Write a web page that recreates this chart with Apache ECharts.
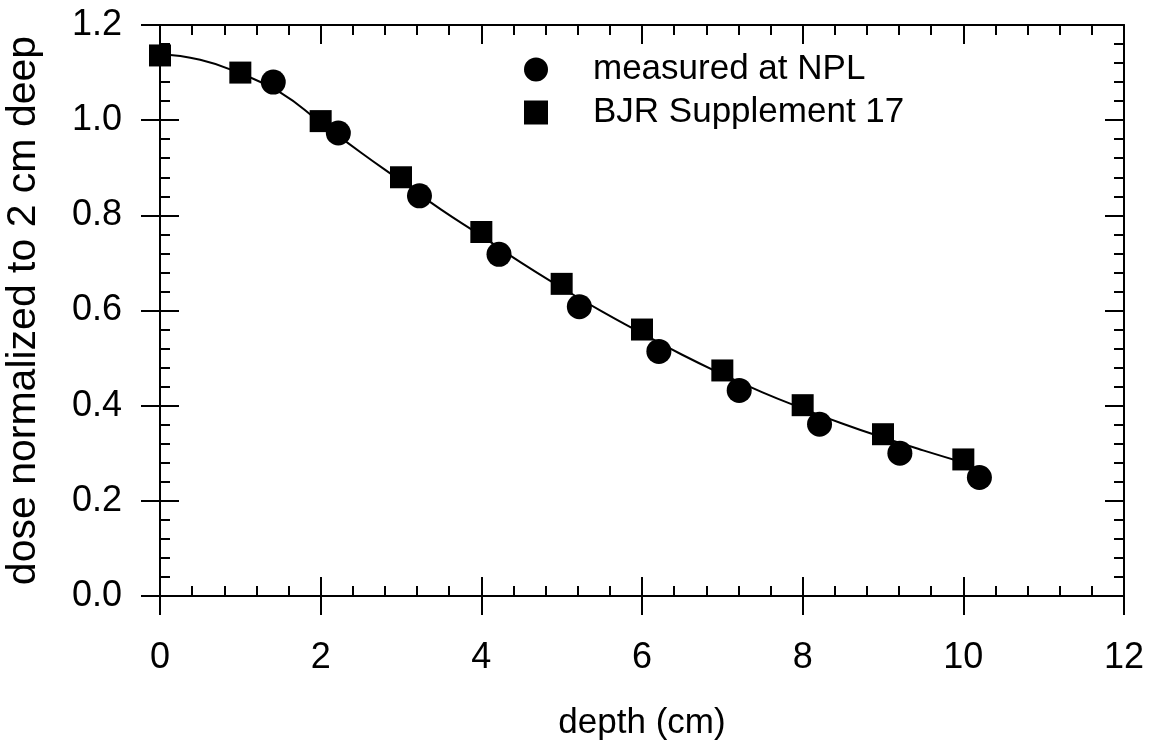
<!DOCTYPE html>
<html>
<head>
<meta charset="utf-8">
<title>Depth dose</title>
<script src="https://cdn.jsdelivr.net/npm/echarts@6/dist/echarts.min.js"></script>
<style>
  html, body { margin: 0; padding: 0; background: #fff; }
  #chart { width: 1154px; height: 742px; }
</style>
</head>
<body>
<div id="chart"></div>
<script>
// Depth–dose data, normalised to the dose at 2 cm depth
const bjrDepth = [0, 1, 2, 3, 4, 5, 6, 7, 8, 9, 10];
const bjrDose  = [1.136, 1.100, 0.998, 0.880, 0.765, 0.656, 0.560, 0.474, 0.401, 0.340, 0.287];

const nplDepth = [1.41, 2.22, 3.23, 4.22, 5.22, 6.21, 7.21, 8.21, 9.21, 10.2];
const nplDose  = [1.080, 0.973, 0.841, 0.718, 0.608, 0.514, 0.432, 0.361, 0.300, 0.249];

// Smooth fitted curve
const fitDepth = [0, 0.5, 1, 1.5, 2, 2.5, 3, 3.5, 4, 4.5, 5, 5.5, 6, 6.5, 7, 7.5, 8, 8.5, 9, 9.5, 10.05];
const fitDose  = [1.138, 1.127, 1.098, 1.058, 0.995, 0.932, 0.872, 0.812, 0.757, 0.700, 0.648,
                  0.598, 0.552, 0.507, 0.466, 0.428, 0.394, 0.362, 0.333, 0.306, 0.278];

const xTicks = [0, 2, 4, 6, 8, 10, 12];
const yTicks = [0.0, 0.2, 0.4, 0.6, 0.8, 1.0, 1.2];

const seriesNames = ['measured at NPL', 'BJR Supplement 17'];
const xTitle = 'depth (cm)';
const yTitle = 'dose normalized to 2 cm deep';

const FONT = '"Liberation Sans", Arial, Helvetica, sans-serif';
const INK = '#000';

const pairs = (xs, ys) => xs.map((x, i) => [x, ys[i]]);

const xRange = { min: xTicks[0], max: xTicks[xTicks.length - 1], interval: xTicks[1] - xTicks[0] };
const yRange = { min: yTicks[0], max: yTicks[yTicks.length - 1], interval: +(yTicks[1] - yTicks[0]).toFixed(2) };

// Frame axis: line plus inward major and minor ticks
function frameAxis(base, pos, opts) {
  return Object.assign({
    type: 'value', position: pos,
    splitLine: { show: false },
    axisLabel: { show: false },
    axisLine: { show: true, onZero: false, lineStyle: { color: INK, width: 2 } },
    axisTick: { show: true, inside: true, length: 19, lineStyle: { color: INK, width: 2 } },
    minorTick: { show: true, splitNumber: 5, length: 10, lineStyle: { color: INK, width: 2 } },
  }, base, opts);
}
// Outward half of the crossing major ticks on the labelled sides
function outerTickAxis(base, pos) {
  return Object.assign({
    type: 'value', position: pos,
    splitLine: { show: false },
    axisLabel: { show: false },
    axisLine: { show: false, onZero: false },
    axisTick: { show: true, inside: false, length: 19, lineStyle: { color: INK, width: 2 } },
    minorTick: { show: false },
  }, base);
}

const chart = echarts.init(document.getElementById('chart'), null, { renderer: 'canvas' });

chart.setOption({
  backgroundColor: '#fff',
  animation: false,
  textStyle: { fontFamily: FONT, color: INK },
  grid: { left: 160, right: 30, top: 25, bottom: 146, containLabel: false, outerBoundsMode: 'none' },
  legend: {
    data: seriesNames,
    orient: 'vertical',
    left: 519, top: 47,
    itemWidth: 24, itemHeight: 24, itemGap: 8,
    textStyle: { fontSize: 35, color: INK, fontFamily: FONT, padding: [0, 0, 0, 40] },
  },
  xAxis: [
    frameAxis(xRange, 'bottom', {
      name: xTitle, nameLocation: 'middle', nameGap: 110,
      nameTextStyle: { fontSize: 35, color: INK, fontFamily: FONT },
      axisLabel: { show: true, fontSize: 36, color: INK, margin: 44, fontFamily: FONT },
    }),
    outerTickAxis(xRange, 'bottom'),
    frameAxis(xRange, 'top', {}),
  ],
  yAxis: [
    frameAxis(yRange, 'left', {
      name: yTitle, nameLocation: 'middle', nameGap: 116,
      nameTextStyle: { fontSize: 41, color: INK, fontFamily: FONT },
      axisLabel: { show: true, fontSize: 36, color: INK, margin: 38, fontFamily: FONT,
                   formatter: v => v.toFixed(1) },
    }),
    outerTickAxis(yRange, 'left'),
    frameAxis(yRange, 'right', {}),
  ],
  series: [
    {
      name: 'fit', type: 'line', smooth: true, showSymbol: false, z: 1, silent: true,
      lineStyle: { color: INK, width: 2 },
      data: pairs(fitDepth, fitDose),
    },
    {
      name: seriesNames[0], type: 'scatter', symbol: 'circle', symbolSize: 25, z: 3,
      itemStyle: { color: INK, opacity: 1 },
      data: pairs(nplDepth, nplDose),
    },
    {
      name: seriesNames[1], type: 'scatter', symbol: 'rect', symbolSize: 22, z: 3,
      itemStyle: { color: INK, opacity: 1 },
      data: pairs(bjrDepth, bjrDose),
    },
  ],
});
</script>
</body>
</html>
